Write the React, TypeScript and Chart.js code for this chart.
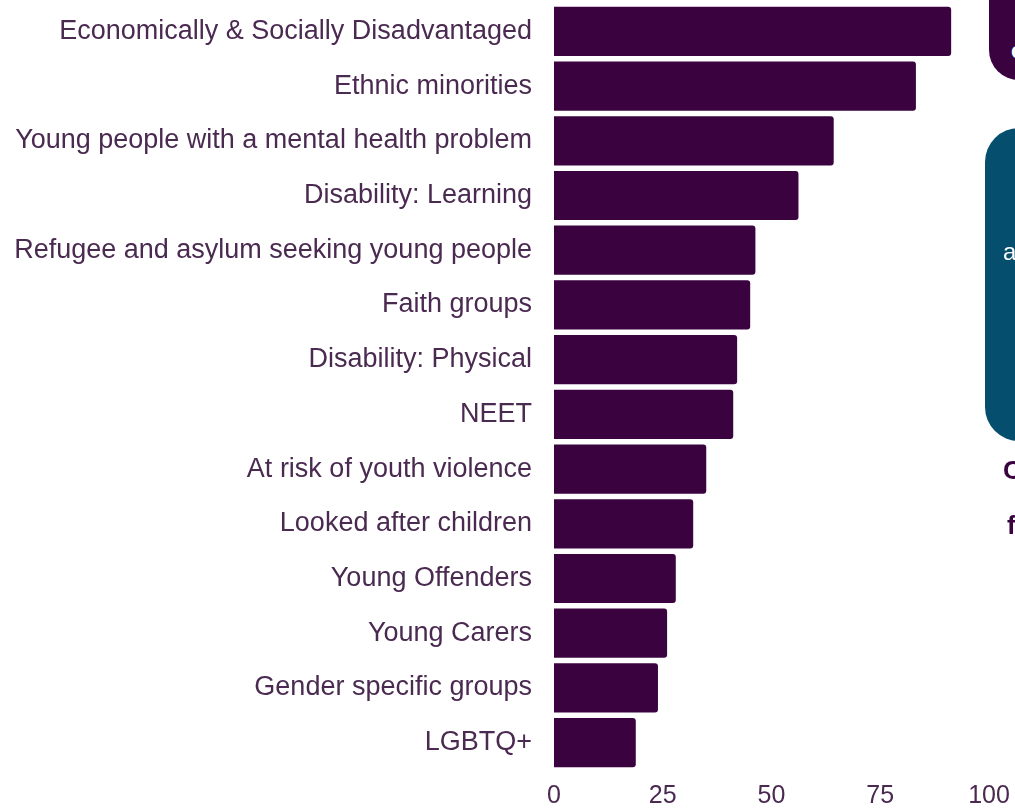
import React, { useEffect, useRef } from "react";
import { Chart, registerables } from "chart.js";

Chart.register(...registerables);

const categories = [
  "Economically & Socially Disadvantaged",
  "Ethnic minorities",
  "Young people with a mental health problem",
  "Disability: Learning",
  "Refugee and asylum seeking young people",
  "Faith groups",
  "Disability: Physical",
  "NEET",
  "At risk of youth violence",
  "Looked after children",
  "Young Offenders",
  "Young Carers",
  "Gender specific groups",
  "LGBTQ+",
];

const values = [91.3, 83.2, 64.3, 56.2, 46.3, 45.1, 42.1, 41.2, 35.0, 32.0, 28.0, 26.0, 23.9, 18.8];

const xTicks = [0, 25, 50, 75, 100];

const BAR = "#3a0340";
const TEXT = "#4a2a50";
const TEAL = "#054e6d";
const FONT = "Liberation Sans, Arial, sans-serif";

export default function App() {
  const ref = useRef<HTMLCanvasElement | null>(null);

  useEffect(() => {
    if (!ref.current) return;
    const chart = new Chart(ref.current, {
      type: "bar",
      data: {
        labels: categories,
        datasets: [
          {
            data: values,
            backgroundColor: BAR,
            borderRadius: 3,
            borderSkipped: "start",
            barPercentage: 0.9,
            categoryPercentage: 1,
          },
        ],
      },
      options: {
        indexAxis: "y",
        animation: false,
        responsive: false,
        maintainAspectRatio: false,
        layout: { autoPadding: false, padding: { top: 4, right: 26, left: 0, bottom: 0 } },
        plugins: { legend: { display: false }, title: { display: false }, tooltip: { enabled: false } },
        scales: {
          x: {
            min: 0,
            max: 100,
            afterBuildTicks: (scale: any) => {
              scale.ticks = xTicks.map((v) => ({ value: v }));
            },
            grid: { display: false, drawTicks: false },
            border: { display: false },
            ticks: {
              color: TEXT,
              padding: 11,
              maxRotation: 0,
              font: { family: FONT, size: 25 },
            },
            afterFit: (scale: any) => {
              scale.height = 41;
              scale.paddingTop = 0;
              scale.paddingBottom = 0;
              scale.paddingLeft = 0;
              scale.paddingRight = 0;
            },
          },
          y: {
            grid: { display: false, drawTicks: false },
            border: { display: false },
            ticks: {
              color: TEXT,
              padding: 22,
              autoSkip: false,
              font: { family: FONT, size: 27 },
            },
            afterFit: (scale: any) => {
              scale.width = 554;
              scale.paddingTop = 0;
              scale.paddingBottom = 0;
            },
          },
        },
      },
    });
    return () => chart.destroy();
  }, []);

  return (
    <div style={{ position: "fixed", left: 0, top: 0, width: 1015, height: 811, background: "#fff", overflow: "hidden" }}>
      <canvas ref={ref} width={1015} height={811} style={{ position: "absolute", left: 0, top: 0 }} />
      <div
        style={{
          position: "absolute",
          left: 989,
          top: -40,
          width: 200,
          height: 120,
          background: BAR,
          borderRadius: 30,
        }}
      />
      <div
        style={{
          position: "absolute",
          left: 1011,
          top: 38,
          color: "#fff",
          fontFamily: FONT,
          fontSize: 22,
          fontWeight: "bold",
        }}
      >
        c
      </div>
      <div
        style={{
          position: "absolute",
          left: 985,
          top: 128,
          width: 200,
          height: 313,
          background: TEAL,
          borderRadius: 34,
        }}
      />
      <div
        style={{
          position: "absolute",
          left: 1003,
          top: 238,
          color: "#fff",
          fontFamily: FONT,
          fontSize: 24,
        }}
      >
        a
      </div>
      <div
        style={{
          position: "absolute",
          left: 1003,
          top: 455,
          color: BAR,
          fontFamily: FONT,
          fontSize: 26,
          fontWeight: "bold",
        }}
      >
        C
      </div>
      <div
        style={{
          position: "absolute",
          left: 1007,
          top: 510,
          color: BAR,
          fontFamily: FONT,
          fontSize: 26,
          fontWeight: "bold",
        }}
      >
        f
      </div>
    </div>
  );
}
